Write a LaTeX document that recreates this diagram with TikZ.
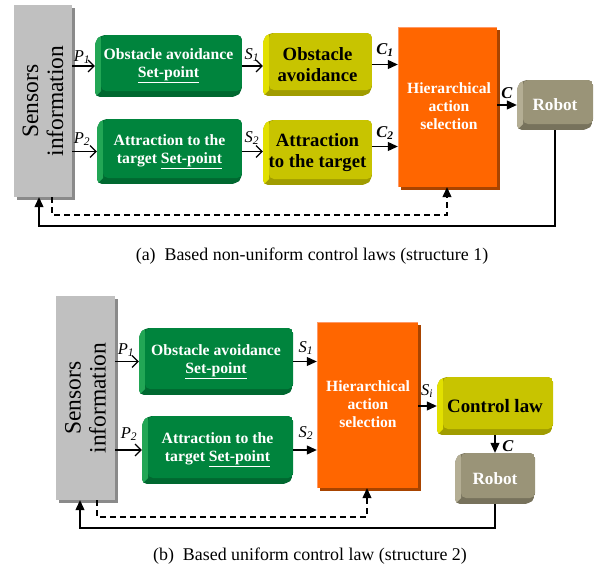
\documentclass[tikz,border=0pt]{standalone}
\usepackage{fontspec}
\setmainfont{Liberation Serif}
\usetikzlibrary{arrows.meta,calc}
\definecolor{grF}{HTML}{00843D}
\definecolor{grL}{HTML}{22A655}
\definecolor{grD}{HTML}{006830}
\definecolor{yeF}{HTML}{C8C400}
\definecolor{yeL}{HTML}{E2E000}
\definecolor{yeD}{HTML}{A09C00}
\definecolor{roF}{HTML}{9A9478}
\definecolor{roL}{HTML}{B4AE94}
\definecolor{roD}{HTML}{77725C}
\definecolor{orF}{HTML}{FF6600}
\definecolor{orS}{HTML}{A84400}
\definecolor{orE}{HTML}{FF9966}
\definecolor{seF}{HTML}{C0C0C0}
\definecolor{seS}{HTML}{8A8A8A}
\newcommand\bevbox[8]{%
 \begin{scope}
  \clip[rounded corners=5pt] (#2,{#3+6}) -- ({#2+6},#3) -- (#4,#3) -- (#4,{#5-6}) -- ({#4-6},#5) -- (#2,#5) -- cycle;
  \fill[#6D] (#2,#3) rectangle (#4,#5);
  \fill[#6L] (#2,#3) -- ({#2+6},#3) -- ({#2+6},{#5-6}) -- (#2,#5) -- cycle;
  \fill[#6F, rounded corners=5pt] ({#2+6},#3) rectangle (#4,{#5-6});
 \end{scope}
 \node[#7, inner sep=0pt, align=center, minimum width={#4pt-#2pt}, minimum height={#5pt-#3pt}] (#1) at ({(#2+#4)/2},{(#3+#5)/2}) {#8};
}
\tikzset{
 x=1pt, y=-1pt,
 gtext/.style={text=white, font=\fontsize{15.7}{18}\selectfont\bfseries},
 ytext/.style={text=black, font=\fontsize{18.7}{21}\selectfont\bfseries},
 ctext/.style={text=black, font=\fontsize{18.9}{21}\selectfont\bfseries},
 rtext/.style={text=white, font=\fontsize{17.2}{20}\selectfont\bfseries},
 htext/.style={text=white, font=\fontsize{15.6}{18}\selectfont\bfseries, align=center, inner sep=0pt},
 stext/.style={text=black, font=\fontsize{23.5}{25}\selectfont, align=center, rotate=90, inner sep=0pt},
 lab/.style={font=\fontsize{16.5}{18}\selectfont, inner sep=0pt},
 captext/.style={font=\fontsize{17.9}{20}\selectfont, inner sep=0pt},
 ln/.style={line width=1.1pt},
 oarr/.style={ln, -{Straight Barb[length=6pt,width=12pt]}},
 farr/.style={ln, -{Triangle[length=10pt,width=9pt]}},
 darr/.style={ln, dash pattern=on 6pt off 4pt, -{Triangle[length=10pt,width=9pt]}},
}
\begin{document}
\begin{tikzpicture}
\useasboundingbox (0,0) rectangle (598,573);
% ================= (a) =================
\fill[seS] (17,8) rectangle (75,200);
\fill[seF] (14,5) rectangle (72,197);
\node[minimum width=58pt, minimum height=192pt, inner sep=0pt] (sensA) at (43,101) {};
\node[stext] (sensAt) at (43,101) {Sensors\\information};
\bevbox{gA1}{95}{35}{242}{97}{gr}{gtext}{Obstacle avoidance\\\underline{Set-point}}
\bevbox{gA2}{97}{119}{242}{184}{gr}{gtext}{Attraction to the\\target \underline{Set-point}}
\bevbox{yA1}{263}{33}{372}{96}{ye}{ytext}{Obstacle\\avoidance}
\bevbox{yA2}{263}{120}{372}{185}{ye}{ytext}{Attraction\\to the target}
\fill[orS] (401,30) rectangle (500,190);
\fill[orF] (398,27) rectangle (497,187);
\draw[orE, line width=1pt] (398.5,187) -- (398.5,27.5) -- (497,27.5);
\node[minimum width=99pt, minimum height=160pt, inner sep=0pt] (hA) at (447.5,107) {};
\node[htext] (hAt) at (449,106) {Hierarchical\\action\\selection};
\bevbox{rA}{517}{80}{593}{130}{ro}{rtext}{Robot}
% arrows
\draw[oarr] (gA1.west -| sensA.east) -- (gA1.west);
\draw[oarr] (gA2.west -| sensA.east) -- (gA2.west);
\draw[oarr] (gA1.east) -- (gA1.east -| yA1.west);
\draw[oarr] (gA2.east) -- (gA2.east -| yA2.west);
\draw[farr] (yA1.east) -- (yA1.east -| hA.west);
\draw[farr] ([yshift=6pt]yA2.east) -- ([yshift=6pt]yA2.east -| hA.west);
\draw[farr] (rA.west -| hA.east) -- (rA.west);
\node[lab] (lP1a) at (82,57) {\textit{P}\textsubscript{\textit{1}}};
\node[lab] (lP2a) at (82,139) {\textit{P}\textsubscript{\textit{2}}};
\node[lab] (lS1a) at (252,55) {\textit{S}\textsubscript{\textit{1}}};
\node[lab] (lS2a) at (252,138) {\textit{S}\textsubscript{\textit{2}}};
\node[lab] (lC1a) at (385,50) {\textbf{\textit{C}}\textsubscript{\textbf{\textit{1}}}};
\node[lab] (lC2a) at (385,133) {\textbf{\textit{C}}\textsubscript{\textbf{\textit{2}}}};
\node[lab] (lCa) at (507,93) {\textbf{\textit{C}}};
\coordinate (fa1) at (39,226);
\draw[farr] (rA.south) |- (fa1) -- (fa1 |- sensA.south);
\coordinate (da1) at (52,215);
\coordinate (da2) at (447,215);
\draw[darr] (da1 |- sensA.south) -- (da1) -- (da2) -- (da2 |- hA.south);
\node[captext] (capA) at (312,256) {(a)\enspace Based non-uniform control laws (structure 1)};
% ================= (b) =================
\fill[seS] (59,299) rectangle (118,503);
\fill[seF] (56,296) rectangle (115,500);
\node[minimum width=59pt, minimum height=204pt, inner sep=0pt] (sensB) at (85.5,398) {};
\node[stext] (sensBt) at (85.5,398) {Sensors\\information};
\bevbox{gB1}{139}{328}{293}{395}{gr}{gtext}{Obstacle avoidance\\\underline{Set-point}}
\bevbox{gB2}{142}{416}{293}{484}{gr}{gtext}{Attraction to the\\target \underline{Set-point}}
\fill[orS] (320,325) rectangle (421,491);
\fill[orF] (317,322) rectangle (418,488);
\draw[orE, line width=1pt] (317.5,488) -- (317.5,322.5) -- (418,322.5);
\node[minimum width=101pt, minimum height=166pt, inner sep=0pt] (hB) at (367.5,405) {};
\node[htext] (hBt) at (368,404) {Hierarchical\\action\\selection};
\bevbox{yB}{437}{377}{553}{435}{ye}{ctext}{Control law}
\bevbox{rB}{455}{453}{535}{504}{ro}{rtext}{Robot}
\draw[oarr] (gB1.west -| sensB.east) -- (gB1.west);
\draw[oarr] (gB2.west -| sensB.east) -- (gB2.west);
\draw[farr] (gB1.east) -- (gB1.east -| hB.west);
\draw[farr] (gB2.east) -- (gB2.east -| hB.west);
\draw[farr] (yB.west -| hB.east) -- (yB.west);
\draw[farr] (yB.south) -- (rB.north);
\node[lab] (lP1b) at (126,350) {\textit{P}\textsubscript{\textit{1}}};
\node[lab] (lP2b) at (129,434) {\textit{P}\textsubscript{\textit{2}}};
\node[lab] (lS1b) at (306,348) {\textit{S}\textsubscript{\textit{1}}};
\node[lab] (lS2b) at (306,433) {\textit{S}\textsubscript{\textit{2}}};
\node[lab] (lSib) at (427,391) {\textit{S}\textsubscript{\textit{i}}};
\node[lab] (lCb) at (508,446) {\textbf{\textit{C}}};
\coordinate (fb1) at (80,528);
\draw[farr] (rB.south) |- (fb1) -- (fb1 |- sensB.south);
\coordinate (db1) at (97,517);
\coordinate (db2) at (367,517);
\draw[darr] (db1 |- sensB.south) -- (db1) -- (db2) -- (db2 |- hB.south);
\node[captext] (capB) at (310,556) {(b)\enspace Based uniform control law (structure 2)};
\end{tikzpicture}
\end{document}
